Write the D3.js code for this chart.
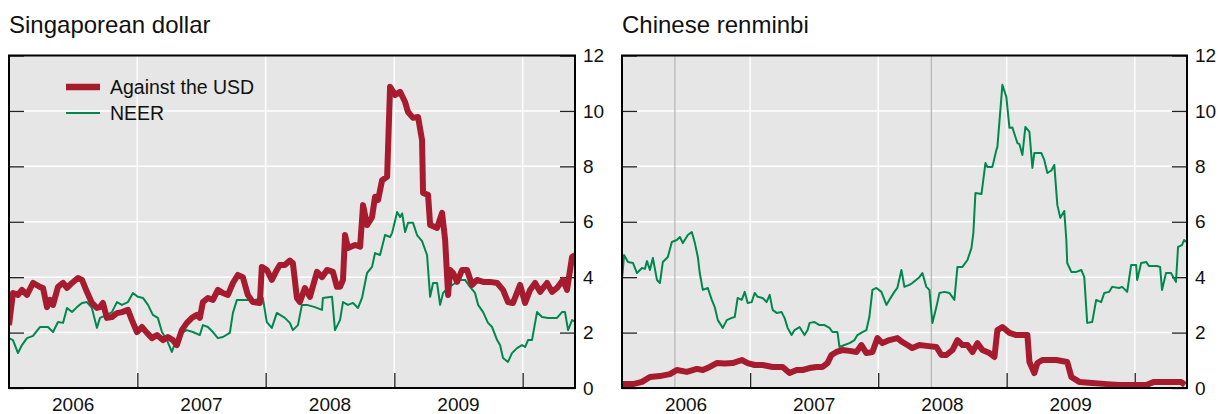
<!DOCTYPE html>
<html>
<head>
<meta charset="utf-8">
<script src="https://cdn.jsdelivr.net/npm/d3@7/dist/d3.min.js"></script>
<style>
  body { margin: 0; background: #ffffff; }
  svg { display: block; font-family: "Liberation Sans", Arial, Helvetica, sans-serif; }
</style>
</head>
<body>
<svg id="chart" width="1219" height="414"></svg>
<script>
// Axis values
const yTicks = [0, 2, 4, 6, 8, 10, 12];
const gridValues = [2, 4, 6, 8, 10];
const yearLabels = ["2006", "2007", "2008", "2009"];
const yearBreaks = [2007, 2008, 2009, 2010];
const timeStart = 2006.0;
const timeEnd = 2010.408;

// Panel titles and legend entries
const panelTitles = ["Singaporean dollar", "Chinese renminbi"];
const seriesNames = ["Against the USD", "NEER"];

// Dates are decimal years; values are volatility in per cent
const sgdUsd = [
  [2006.0,2.27],[2006.031,3.43],[2006.070,3.36],[2006.101,3.54],[2006.140,3.36],[2006.187,3.79],
  [2006.241,3.65],[2006.265,3.61],[2006.296,2.92],[2006.319,3.18],[2006.343,3.0],[2006.382,3.65],
  [2006.421,3.79],[2006.452,3.61],[2006.491,3.79],[2006.537,3.97],[2006.569,3.9],[2006.607,3.47],
  [2006.646,3.07],[2006.685,2.89],[2006.709,2.92],[2006.732,3.07],[2006.763,2.53],[2006.802,2.56],
  [2006.841,2.7],[2006.880,2.74],[2006.927,2.82],[2006.958,2.45],[2006.997,2.02],[2007.036,2.2],
  [2007.075,1.99],[2007.114,1.8],[2007.153,1.91],[2007.199,1.73],[2007.238,1.84],[2007.277,1.73],
  [2007.308,1.55],[2007.347,2.09],[2007.386,2.35],[2007.425,2.53],[2007.464,2.64],[2007.487,2.53],
  [2007.511,3.1],[2007.550,3.25],[2007.589,3.18],[2007.628,3.54],[2007.667,3.43],[2007.706,3.36],
  [2007.745,3.79],[2007.783,4.08],[2007.822,4.0],[2007.861,3.36],[2007.900,3.1],[2007.955,3.07],
  [2007.970,4.37],[2008.009,4.26],[2008.048,3.9],[2008.087,4.26],[2008.110,4.44],[2008.149,4.44],
  [2008.188,4.6],[2008.212,4.5],[2008.243,3.25],[2008.266,3.1],[2008.305,3.61],[2008.344,3.29],
  [2008.399,4.19],[2008.438,4.0],[2008.477,4.26],[2008.523,4.19],[2008.554,3.65],[2008.578,3.65],
  [2008.601,3.9],[2008.617,5.52],[2008.640,5.05],[2008.695,5.16],[2008.734,5.1],[2008.757,6.6],
  [2008.788,5.88],[2008.827,6.17],[2008.850,6.9],[2008.874,6.79],[2008.905,7.5],[2008.944,7.62],
  [2008.967,10.87],[2009.006,10.58],[2009.045,10.69],[2009.084,10.32],[2009.107,9.96],[2009.146,9.75],
  [2009.185,9.78],[2009.216,8.95],[2009.224,7.04],[2009.263,6.97],[2009.279,5.88],[2009.333,5.78],
  [2009.372,6.32],[2009.396,5.34],[2009.419,3.36],[2009.435,4.26],[2009.458,4.15],[2009.489,3.83],
  [2009.528,4.26],[2009.567,4.26],[2009.606,3.72],[2009.645,3.9],[2009.692,3.83],[2009.746,3.83],
  [2009.801,3.79],[2009.847,3.54],[2009.886,3.1],[2009.925,3.07],[2009.980,3.72],[2010.019,3.07],
  [2010.058,3.54],[2010.097,3.79],[2010.136,3.47],[2010.190,3.79],[2010.229,3.47],[2010.268,3.61],
  [2010.314,3.9],[2010.346,3.54],[2010.385,4.73],[2010.408,4.8]
];

const sgdNeer = [
  [2006.0,1.8],[2006.031,1.73],[2006.070,1.26],[2006.101,1.55],[2006.140,1.8],[2006.187,1.88],
  [2006.241,2.2],[2006.304,2.2],[2006.343,2.02],[2006.382,2.38],[2006.421,2.35],[2006.452,2.89],
  [2006.491,2.74],[2006.530,2.92],[2006.569,3.07],[2006.607,3.1],[2006.646,2.89],[2006.685,2.17],
  [2006.709,2.53],[2006.763,2.64],[2006.802,2.74],[2006.841,3.1],[2006.880,3.0],[2006.927,3.1],
  [2006.966,3.43],[2007.005,3.29],[2007.044,3.25],[2007.083,3.0],[2007.121,2.64],[2007.160,2.53],
  [2007.192,2.02],[2007.231,1.73],[2007.269,1.3],[2007.293,1.62],[2007.347,1.99],[2007.386,2.09],
  [2007.433,2.02],[2007.487,1.91],[2007.511,2.27],[2007.550,2.2],[2007.589,2.02],[2007.628,1.8],
  [2007.667,1.84],[2007.721,1.99],[2007.745,2.71],[2007.776,3.18],[2007.822,3.18],[2007.916,3.18],
  [2007.978,3.25],[2008.009,2.38],[2008.048,2.17],[2008.087,2.71],[2008.149,2.53],[2008.188,2.35],
  [2008.212,2.09],[2008.251,2.27],[2008.282,3.0],[2008.321,3.0],[2008.383,2.92],[2008.438,2.82],
  [2008.445,3.25],[2008.516,3.29],[2008.539,2.09],[2008.578,2.45],[2008.601,3.1],[2008.640,3.0],
  [2008.679,3.07],[2008.718,2.89],[2008.749,3.25],[2008.788,4.15],[2008.827,4.37],[2008.850,4.87],
  [2008.889,4.8],[2008.928,5.52],[2008.967,5.45],[2008.983,5.6],[2009.022,6.35],[2009.045,6.17],
  [2009.061,6.3],[2009.084,5.63],[2009.107,5.96],[2009.146,5.96],[2009.177,5.52],[2009.216,5.3],
  [2009.255,4.8],[2009.279,3.29],[2009.302,3.79],[2009.333,3.79],[2009.357,3.0],[2009.380,3.43],
  [2009.419,3.61],[2009.474,3.79],[2009.512,3.9],[2009.551,3.9],[2009.590,3.65],[2009.629,3.43],
  [2009.653,3.0],[2009.692,2.74],[2009.730,2.35],[2009.762,2.2],[2009.801,1.73],[2009.824,1.55],
  [2009.847,1.08],[2009.886,0.94],[2009.917,1.26],[2009.956,1.44],[2009.995,1.55],[2010.019,1.48],
  [2010.042,1.73],[2010.073,1.73],[2010.112,2.74],[2010.151,2.56],[2010.198,2.53],[2010.268,2.53],
  [2010.307,2.74],[2010.330,2.74],[2010.354,2.09],[2010.385,2.45],[2010.408,2.4]
];

const cnyUsd = [
  [2006.0,0.14],[2006.086,0.14],[2006.156,0.22],[2006.218,0.4],[2006.296,0.43],[2006.374,0.5],
  [2006.428,0.65],[2006.506,0.58],[2006.584,0.69],[2006.631,0.65],[2006.685,0.76],[2006.740,0.9],
  [2006.802,0.88],[2006.864,0.9],[2006.935,1.01],[2006.981,0.9],[2007.036,0.83],[2007.098,0.83],
  [2007.176,0.76],[2007.254,0.76],[2007.308,0.54],[2007.363,0.65],[2007.410,0.65],[2007.464,0.72],
  [2007.519,0.76],[2007.565,0.76],[2007.604,0.9],[2007.635,1.19],[2007.674,1.3],[2007.721,1.37],
  [2007.776,1.34],[2007.830,1.3],[2007.869,1.55],[2007.908,1.26],[2007.955,1.3],[2007.994,1.8],
  [2008.033,1.62],[2008.087,1.73],[2008.149,1.8],[2008.188,1.66],[2008.227,1.55],[2008.266,1.44],
  [2008.321,1.55],[2008.375,1.52],[2008.453,1.48],[2008.492,1.19],[2008.531,1.19],[2008.578,1.37],
  [2008.617,1.73],[2008.656,1.55],[2008.695,1.55],[2008.734,1.3],[2008.773,1.62],[2008.811,1.37],
  [2008.866,1.26],[2008.905,1.12],[2008.928,2.09],[2008.967,2.2],[2009.022,1.99],[2009.076,1.91],
  [2009.123,1.91],[2009.162,1.91],[2009.178,0.94],[2009.216,0.54],[2009.240,0.9],[2009.279,1.01],
  [2009.388,1.01],[2009.473,0.94],[2009.505,0.4],[2009.567,0.22],[2009.668,0.18],[2009.785,0.14],
  [2009.879,0.11],[2009.980,0.11],[2010.089,0.11],[2010.151,0.22],[2010.244,0.22],[2010.361,0.22],
  [2010.392,0.11]
];

const cnyNeer = [
  [2006.0,3.9],[2006.016,4.8],[2006.047,4.55],[2006.086,4.51],[2006.117,4.15],[2006.156,4.33],
  [2006.179,4.3],[2006.195,4.58],[2006.218,4.26],[2006.241,4.69],[2006.273,3.9],[2006.296,3.79],
  [2006.319,4.55],[2006.358,4.73],[2006.389,5.27],[2006.428,5.34],[2006.452,5.45],[2006.475,5.23],
  [2006.514,5.52],[2006.545,5.63],[2006.569,5.23],[2006.592,4.73],[2006.607,4.15],[2006.631,3.54],
  [2006.670,3.61],[2006.701,3.18],[2006.724,2.92],[2006.748,2.45],[2006.787,2.17],[2006.818,2.45],
  [2006.857,2.53],[2006.880,2.56],[2006.903,3.25],[2006.935,3.18],[2006.958,3.47],[2006.981,3.07],
  [2007.012,3.1],[2007.036,3.43],[2007.059,3.29],[2007.098,3.25],[2007.129,3.1],[2007.153,3.36],
  [2007.176,2.82],[2007.207,2.71],[2007.246,2.74],[2007.269,2.53],[2007.293,2.17],[2007.324,1.91],
  [2007.347,2.09],[2007.386,2.2],[2007.425,1.91],[2007.449,2.09],[2007.464,2.35],[2007.503,2.38],
  [2007.542,2.27],[2007.581,2.27],[2007.620,2.17],[2007.643,2.02],[2007.682,2.02],[2007.698,1.48],
  [2007.737,1.55],[2007.776,1.62],[2007.815,1.73],[2007.838,1.91],[2007.877,2.02],[2007.908,2.09],
  [2007.931,2.56],[2007.955,3.54],[2007.986,3.61],[2008.025,3.47],[2008.064,3.0],[2008.087,3.18],
  [2008.126,3.47],[2008.149,3.61],[2008.181,4.26],[2008.204,3.65],[2008.243,3.72],[2008.266,3.79],
  [2008.321,4.0],[2008.344,4.15],[2008.375,3.65],[2008.399,3.54],[2008.422,2.35],[2008.453,2.92],
  [2008.477,3.43],[2008.516,3.47],[2008.554,3.43],[2008.593,3.18],[2008.617,4.37],[2008.656,4.37],
  [2008.695,4.62],[2008.726,5.05],[2008.741,5.6],[2008.757,7.04],[2008.804,7.0],[2008.835,8.12],
  [2008.850,7.98],[2008.889,7.98],[2008.920,8.59],[2008.928,8.7],[2008.967,10.94],[2008.998,10.5],
  [2009.022,9.39],[2009.045,9.4],[2009.084,8.84],[2009.100,8.8],[2009.123,8.41],[2009.146,9.42],
  [2009.178,9.24],[2009.201,7.94],[2009.216,8.48],[2009.271,8.48],[2009.294,8.23],[2009.318,7.76],
  [2009.349,7.85],[2009.372,8.05],[2009.396,6.6],[2009.419,6.14],[2009.450,6.39],[2009.466,5.34],
  [2009.473,4.51],[2009.505,4.19],[2009.544,4.19],[2009.583,4.26],[2009.606,4.0],[2009.629,2.35],
  [2009.668,2.38],[2009.699,3.18],[2009.738,3.1],[2009.762,3.43],[2009.801,3.47],[2009.824,3.65],
  [2009.879,3.61],[2009.902,3.65],[2009.941,3.47],[2009.972,4.44],[2010.011,4.44],[2010.019,3.9],
  [2010.050,4.51],[2010.089,4.55],[2010.112,4.4],[2010.174,4.4],[2010.198,4.37],[2010.213,3.54],
  [2010.244,4.15],[2010.283,4.15],[2010.322,3.83],[2010.338,5.09],[2010.369,5.16],[2010.385,5.34],
  [2010.400,5.27]
];

// Reference dates marked with thin grey rules in the renminbi panel
const cnyMarkers = [2006.413, 2008.414];

const colors = { usd: "#a71b2e", neer: "#00874f", bg: "#e6e6e6" };

// Decimal year -> Date
function toDate(t) {
  const yr = Math.floor(t);
  const s = Date.UTC(yr, 0, 1), e = Date.UTC(yr + 1, 0, 1);
  return new Date(s + (t - yr) * (e - s));
}

const svg = d3.select("#chart");
const plotTop = 55.5, plotBottom = 388;

const panels = [
  { left: 9, right: 575, title: panelTitles[0], usd: sgdUsd, neer: sgdNeer, markers: [], legend: true },
  { left: 622, right: 1187, title: panelTitles[1], usd: cnyUsd, neer: cnyNeer, markers: cnyMarkers, legend: false }
];

panels.forEach((p, i) => {
  const x = d3.scaleUtc().domain([toDate(timeStart), toDate(timeEnd)]).range([p.left, p.right]);
  const y = d3.scaleLinear().domain([0, 12]).range([plotBottom, plotTop]);
  const g = svg.append("g");

  // Title
  g.append("text").attr("x", p.left).attr("y", 33)
    .attr("font-size", 24).attr("fill", "#111").text(p.title);

  // Plot background
  g.append("rect").attr("x", p.left).attr("y", plotTop)
    .attr("width", p.right - p.left).attr("height", plotBottom - plotTop).attr("fill", colors.bg);

  // White grid
  g.append("g").selectAll("line").data(gridValues).join("line")
    .attr("x1", p.left).attr("x2", p.right)
    .attr("y1", d => y(d)).attr("y2", d => y(d))
    .attr("stroke", "#fff").attr("stroke-width", 1.5);
  g.append("g").selectAll("line").data(yearBreaks).join("line")
    .attr("x1", d => x(toDate(d))).attr("x2", d => x(toDate(d)))
    .attr("y1", plotTop).attr("y2", plotBottom)
    .attr("stroke", "#fff").attr("stroke-width", 1.5);

  // Grey marker rules
  g.append("g").selectAll("line").data(p.markers).join("line")
    .attr("x1", d => x(toDate(d))).attr("x2", d => x(toDate(d)))
    .attr("y1", plotTop).attr("y2", plotBottom)
    .attr("stroke", "#b5b5b5").attr("stroke-width", 1.2);

  // Inward tick marks
  g.append("g").attr("transform", `translate(${p.left},0)`)
    .call(d3.axisRight(y).tickValues(yTicks).tickSize(15).tickFormat(""))
    .call(a => a.select(".domain").remove())
    .call(a => a.selectAll("line").attr("stroke", "#222").attr("stroke-width", 1.3));
  g.append("g").attr("transform", `translate(${p.right},0)`)
    .call(d3.axisLeft(y).tickValues(yTicks).tickSize(15).tickFormat(""))
    .call(a => a.select(".domain").remove())
    .call(a => a.selectAll("line").attr("stroke", "#222").attr("stroke-width", 1.3));
  g.append("g").attr("transform", `translate(0,${plotBottom})`)
    .call(d3.axisTop(x).tickValues(yearBreaks.map(toDate)).tickSize(15).tickFormat(""))
    .call(a => a.select(".domain").remove())
    .call(a => a.selectAll("line").attr("stroke", "#222").attr("stroke-width", 1.3));

  // Right-hand value labels
  g.append("g").attr("transform", `translate(${p.right},0)`)
    .call(d3.axisRight(y).tickValues(yTicks).tickSize(0).tickPadding(8))
    .call(a => a.select(".domain").remove())
    .call(a => a.selectAll("text").attr("font-size", 19).attr("fill", "#111")
      .attr("font-family", "'Liberation Sans', Arial, sans-serif"));

  // Year labels centred on each year
  g.append("g").selectAll("text").data(yearLabels).join("text")
    .attr("x", d => x(toDate(+d + 0.5)))
    .attr("y", 411).attr("text-anchor", "middle")
    .attr("font-size", 19).attr("fill", "#111").text(d => d);

  // Series lines
  const clipId = "clip" + i;
  svg.append("clipPath").attr("id", clipId).append("rect")
    .attr("x", p.left).attr("y", plotTop).attr("width", p.right - p.left).attr("height", plotBottom - plotTop);
  const line = d3.line().x(d => x(toDate(d[0]))).y(d => y(d[1]));
  const lines = g.append("g").attr("clip-path", `url(#${clipId})`);
  lines.append("path").datum(p.neer).attr("d", line)
    .attr("fill", "none").attr("stroke", colors.neer).attr("stroke-width", 2)
    .attr("stroke-linejoin", "round");
  lines.append("path").datum(p.usd).attr("d", line)
    .attr("fill", "none").attr("stroke", colors.usd).attr("stroke-width", 6)
    .attr("stroke-linejoin", "round").attr("stroke-linecap", "butt");

  // Frame
  g.append("rect").attr("x", p.left).attr("y", plotTop)
    .attr("width", p.right - p.left).attr("height", plotBottom - plotTop)
    .attr("fill", "none").attr("stroke", "#000").attr("stroke-width", 2);

  // Legend
  if (p.legend) {
    const lg = g.append("g");
    const items = [
      { name: seriesNames[0], color: colors.usd, w: 6.5, y: 87 },
      { name: seriesNames[1], color: colors.neer, w: 2, y: 113 }
    ];
    items.forEach(it => {
      lg.append("line").attr("x1", 66).attr("x2", 100).attr("y1", it.y).attr("y2", it.y)
        .attr("stroke", it.color).attr("stroke-width", it.w);
      lg.append("text").attr("x", 110).attr("y", it.y + 6.5)
        .attr("font-size", 19.5).attr("fill", "#111").text(it.name);
    });
  }
});
</script>
</body>
</html>
